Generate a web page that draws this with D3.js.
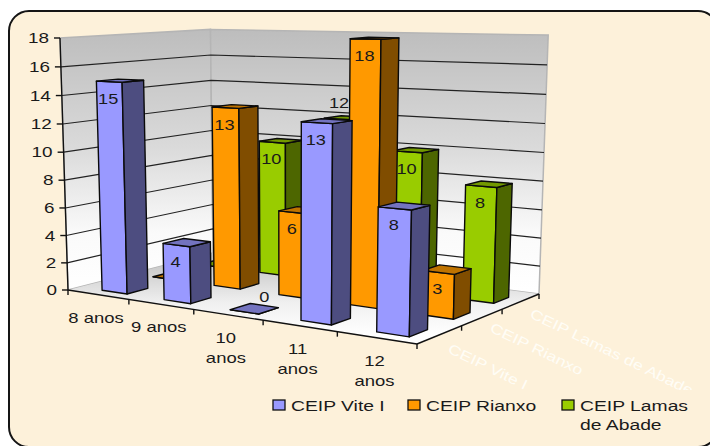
<!DOCTYPE html>
<html><head><meta charset="utf-8">
<script src="https://d3js.org/d3.v7.min.js"></script>
<style>html,body{margin:0;padding:0;background:#fff}svg{display:block}text{font-family:"Liberation Sans",Arial,sans-serif;fill:#1a1a1a}</style>
</head><body><div id="c"></div>
<script>
const categories = [["8 anos"],["9 anos"],["10","anos"],["11","anos"],["12","anos"]];
const categoryKeys = ["8 anos","9 anos","10 anos","11 anos","12 anos"];
const seriesNames = ["CEIP Vite I","CEIP Rianxo","CEIP Lamas de Abade"];
const viteValues = [15,4,0,13,8];
const rianxoValues = [0,13,6,18,3];
const lamasValues = [0,10,12,10,8];
const yTicks = [0,2,4,6,8,10,12,14,16,18];
const hiddenLabels = ["1-0","2-0"];
const labelNudge = {"0-2":[21,-10],"2-2":[2,-11]};
const palette = [
  {front:"#9999FF",side:"#4D4D80",top:"#7373BF"},
  {front:"#FF9900",side:"#804D00",top:"#BF7300"},
  {front:"#99CC00",side:"#4D6600",top:"#739900"}];
const floorQuad = [[68,290],[417,344],[539,294],[213,253]];
const vanish = [291,7311];
const riseWeight = -0.03465;

function quadMap(q){
  const [[x0,y0],[x1,y1],[x2,y2],[x3,y3]] = q;
  const dx1=x1-x2,dx2=x3-x2,sx=x0-x1+x2-x3,dy1=y1-y2,dy2=y3-y2,sy=y0-y1+y2-y3;
  const den=dx1*dy2-dx2*dy1, g=(sx*dy2-dx2*sy)/den, h=(dx1*sy-sx*dy1)/den;
  const a=x1-x0+g*x1,b=x3-x0+h*x3,d=y1-y0+g*y1,e=y3-y0+h*y3;
  return (s,t)=>[a*s+b*t+x0,d*s+e*t+y0,g*s+h*t+1];
}
const floorMap=quadMap(floorQuad);
const yScale=d3.scaleLinear().domain([0,18]).range([0,1]);
const uEdge=d3.scaleLinear().domain([0,5]).range([0,1]);
const vEdge=d3.scaleLinear().domain([0,3]).range([0,1]);
const uBand=d3.scaleBand().domain(categoryKeys).range([0,1]).paddingInner(0.59).paddingOuter(0.295).align(0.62);
const vBand=d3.scaleBand().domain(seriesNames).range([0,1]).paddingInner(0.6).paddingOuter(0.3).align(0.38);
function P(s,t,val){
  const m=floorMap(s,t),c=riseWeight*yScale(val),w=m[2]+c;
  return [(m[0]+vanish[0]*c)/w,(m[1]+vanish[1]*c)/w];
}
const poly=pts=>pts.map(p=>p[0].toFixed(1)+","+p[1].toFixed(1)).join(" ");

const svg=d3.select("#c").append("svg").attr("width",710).attr("height",446);
const defs=svg.append("defs");
function grad(id,y1,y2,stops){
  const g=defs.append("linearGradient").attr("id",id).attr("gradientUnits","userSpaceOnUse").attr("x1",0).attr("x2",0).attr("y1",y1).attr("y2",y2);
  stops.forEach(s=>g.append("stop").attr("offset",s[0]).attr("stop-color",s[1]));
}
grad("wall",30,290,[[0,"#BDBDBD"],[0.45,"#DADADA"],[0.78,"#FAFAFA"],[1,"#FFFFFF"]]);
grad("floor",255,335,[[0,"#BFBFBF"],[0.6,"#F0F0F0"],[1,"#FFFFFF"]]);

svg.append("rect").attr("x",9).attr("y",11).attr("width",709).attr("height",436).attr("rx",20).attr("fill","#FDF1DA").attr("stroke","#151515").attr("stroke-width",2);

function stretched(x,y,str,size,sx,anchor){
  return svg.append("text").attr("transform",`translate(${x},${y}) scale(${sx},1)`).attr("text-anchor",anchor||"middle").attr("font-size",size).text(str);
}
const depthNames=[[447,352],[489,331],[529,317]];
depthNames.forEach((d,i)=>{
  svg.append("text").attr("transform",`translate(${d[0]},${d[1]}) rotate(26) scale(1.27,1)`).attr("font-size",14).style("fill","#FFFDF6").text(seriesNames[i]);
});
svg.append("rect").attr("x",267).attr("y",390).attr("width",437).attr("height",46).attr("fill","#FDF1DA");

svg.append("polygon").attr("points",poly([P(0,0,0),P(0,0,18),P(0,1,18),P(0,1,0)])).attr("fill","url(#wall)").attr("stroke","#B5B5B5").attr("stroke-width",1.5);
svg.append("polygon").attr("points",poly([P(0,1,0),P(0,1,18),P(1,1,18),P(1,1,0)])).attr("fill","url(#wall)").attr("stroke","#B5B5B5").attr("stroke-width",1.5);
svg.append("polygon").attr("points",poly([P(0,0,0),P(1,0,0),P(1,1,0),P(0,1,0)])).attr("fill","url(#floor)");

yTicks.filter(v=>v>0&&v<18).forEach(v=>{
  svg.append("polyline").attr("points",poly([P(0,0,v),P(0,1,v),P(1,1,v)])).attr("fill","none").attr("stroke","#222").attr("stroke-width",1.2);
});

const axisLine=(a,b)=>svg.append("line").attr("x1",a[0]).attr("y1",a[1]).attr("x2",b[0]).attr("y2",b[1]).attr("stroke","#111").attr("stroke-width",1.4);
axisLine(P(0,0,0),P(0,0,18));
axisLine(P(0,0,0),P(1,0,0));
axisLine(P(1,0,0),P(1,1,0));
yTicks.forEach(v=>{
  const p=P(0,0,v);
  axisLine([p[0]-6,p[1]],p);
  stretched(p[0]-11,p[1]+5,String(v),14,1.35,"end");
});
d3.range(0,6).forEach(i=>{const p=P(uEdge(i),0,0);axisLine(p,[p[0],p[1]+5]);});
d3.range(1,4).forEach(i=>{const p=P(1,vEdge(i),0);axisLine(p,[p[0],p[1]+5]);});
categories.forEach((lines,i)=>{
  const p=P(uEdge(i+0.5),0,0);
  lines.forEach((l,j)=>stretched(p[0]-2,p[1]+28+j*20,l,14,1.32));
});

const seriesValues=[viteValues,rianxoValues,lamasValues];
[2,1,0].forEach(si=>{
  const v0=vBand(seriesNames[si]),v1=v0+vBand.bandwidth(),col=palette[si];
  categoryKeys.forEach((cat,ci)=>{
    const val=seriesValues[si][ci],u0=uBand(cat),u1=u0+uBand.bandwidth();
    const face=(pts,fill)=>svg.append("polygon").attr("points",poly(pts)).attr("fill",fill).attr("stroke","#0a0a0a").attr("stroke-width",1.4).attr("stroke-linejoin","round");
    face([P(u0,v0,0),P(u1,v0,0),P(u1,v0,val),P(u0,v0,val)],col.front);
    face([P(u1,v0,0),P(u1,v1,0),P(u1,v1,val),P(u1,v0,val)],col.side);
    face([P(u0,v0,val),P(u1,v0,val),P(u1,v1,val),P(u0,v1,val)],col.top);
    const key=si+"-"+ci;
    if(hiddenLabels.includes(key))return;
    const t=P((u0+u1)/2,v0,val);
    const n=labelNudge[key]||[0,22];
    stretched(t[0]-1+n[0],t[1]+n[1],String(val),14,1.3);
  });
});

const legendX=[273,408,562];
seriesNames.forEach((n,i)=>{
  svg.append("rect").attr("x",legendX[i]).attr("y",400).attr("width",12).attr("height",10).attr("fill",palette[i].front).attr("stroke","#111").attr("stroke-width",1.3);
  const lines=i===2?["CEIP Lamas","de Abade"]:[n];
  lines.forEach((l,j)=>stretched(legendX[i]+18,411+j*18.5,l,14,1.38,"start"));
});
</script></body></html>
